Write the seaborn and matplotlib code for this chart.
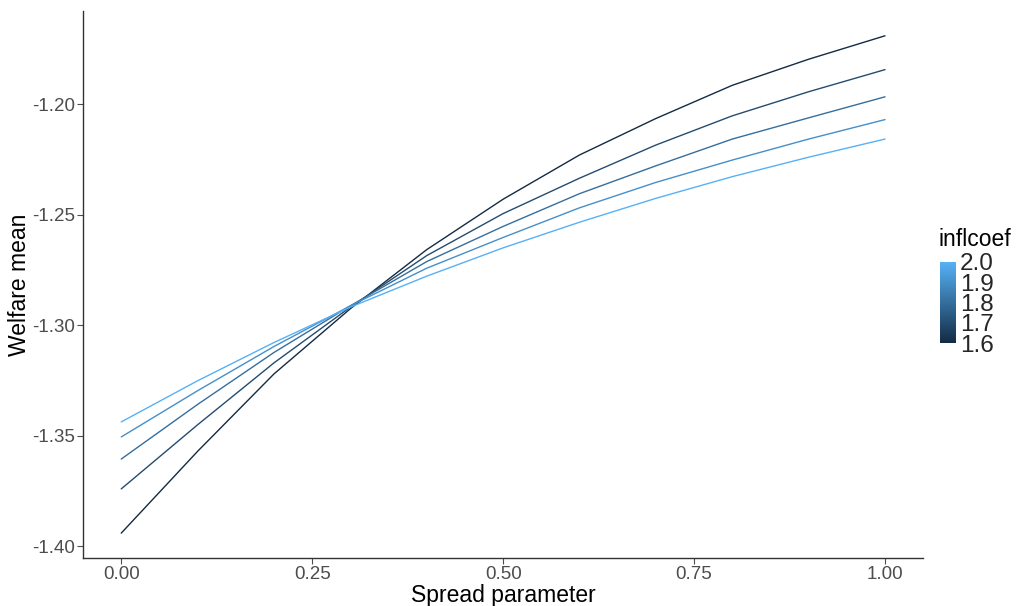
import numpy as np
import pandas as pd
import matplotlib
matplotlib.use("Agg")
import matplotlib.pyplot as plt
import seaborn as sns
from matplotlib.colors import LinearSegmentedColormap, Normalize
from matplotlib.cm import ScalarMappable

spread = [0.0, 0.1, 0.2, 0.3, 0.4, 0.5, 0.6, 0.7, 0.8, 0.9, 1.0]
inflcoef = [1.6, 1.7, 1.8, 1.9, 2.0]
w_16 = [-1.394, -1.357, -1.322, -1.2925, -1.2658, -1.243, -1.223, -1.2065, -1.1915, -1.1797, -1.1691]
w_17 = [-1.374, -1.345, -1.317, -1.2918, -1.2685, -1.2495, -1.2335, -1.2185, -1.2053, -1.1944, -1.1844]
w_18 = [-1.3605, -1.3358, -1.3123, -1.2912, -1.2712, -1.2553, -1.2405, -1.2279, -1.2158, -1.2062, -1.1967]
w_19 = [-1.3505, -1.3296, -1.3096, -1.2912, -1.2742, -1.2603, -1.2469, -1.2354, -1.2253, -1.2158, -1.207]
w_20 = [-1.3437, -1.3251, -1.3078, -1.2918, -1.2778, -1.2650, -1.2534, -1.2426, -1.2328, -1.2240, -1.2158]
series = [w_16, w_17, w_18, w_19, w_20]
xticks = [0.0, 0.25, 0.5, 0.75, 1.0]
xtick_labels = ["0.00", "0.25", "0.50", "0.75", "1.00"]
yticks = [-1.40, -1.35, -1.30, -1.25, -1.20]
ytick_labels = ["-1.40", "-1.35", "-1.30", "-1.25", "-1.20"]

rows = []
for c, vals in zip(inflcoef, series):
    for s, v in zip(spread, vals):
        rows.append({"spread": s, "inflcoef": c, "welfare": v})
df = pd.DataFrame(rows)

sns.set_theme(style="white")
plt.rcParams["font.family"] = ["Liberation Sans", "DejaVu Sans"]

cmap = LinearSegmentedColormap.from_list("gg", ["#132B43", "#56B1F7"])
norm = Normalize(vmin=1.6, vmax=2.0)

fig = plt.figure(figsize=(10.19, 6.06), dpi=100)
ax = fig.add_axes([0.0815, 0.0792, 0.906 - 0.0815, 0.982 - 0.0792])
sns.lineplot(data=df, x="spread", y="welfare", hue="inflcoef", palette=cmap,
             hue_norm=norm, legend=False, ax=ax, linewidth=1.0, estimator=None,
             units="inflcoef")

ax.set_xlim(-0.05, 1.05)
ax.set_ylim(-1.40525, -1.15785)
ax.set_xticks(xticks)
ax.set_xticklabels(xtick_labels)
ax.set_yticks(yticks)
ax.set_yticklabels(ytick_labels)
ax.tick_params(axis="both", which="major", labelsize=13.5, colors="#4D4D4D",
               length=4, width=0.8, direction="out", left=True, bottom=True,
               pad=2)
for lab in ax.get_xticklabels() + ax.get_yticklabels():
    lab.set_color("#4D4D4D")
for side in ["top", "right"]:
    ax.spines[side].set_visible(False)
for side in ["left", "bottom"]:
    ax.spines[side].set_color("#333333")
    ax.spines[side].set_linewidth(1.0)
ax.set_xlabel("Spread parameter", fontsize=16.5, color="black")
ax.set_ylabel("Welfare mean", fontsize=16.5, color="black")
ax.xaxis.set_label_coords(0.5, -(595 - 558) / 547)
ax.xaxis.label.set_va("center")
ax.yaxis.set_label_coords((19 - 83) / 840, 0.5)
ax.yaxis.label.set_va("center")
ax.grid(False)

# colorbar legend
cax = fig.add_axes([940 / 1019, (606 - 343) / 606, 16 / 1019, 81 / 606])
sm = ScalarMappable(norm=norm, cmap=cmap)
cb = fig.colorbar(sm, cax=cax, ticks=inflcoef)
cb.outline.set_visible(False)
cb.ax.set_yticklabels([f"{v:.1f}" for v in inflcoef])
cb.ax.tick_params(labelsize=17.5, length=3, color="white", width=0.6,
                  direction="in", pad=3)
cb.ax.tick_params(axis="y", which="both", left=True, right=True, direction="in")
cb.ax.yaxis.set_ticks_position("both")
cb.ax.yaxis.set_label_position("right")
for t in cb.ax.get_yticklines():
    t.set_color("white")
for lab in cb.ax.get_yticklabels():
    lab.set_ha("left")
fig.text(938 / 1019, (606 - 239) / 606, "inflcoef", fontsize=16.5, va="center",
         ha="left", color="black")

fig.savefig("out.png", dpi=100)
